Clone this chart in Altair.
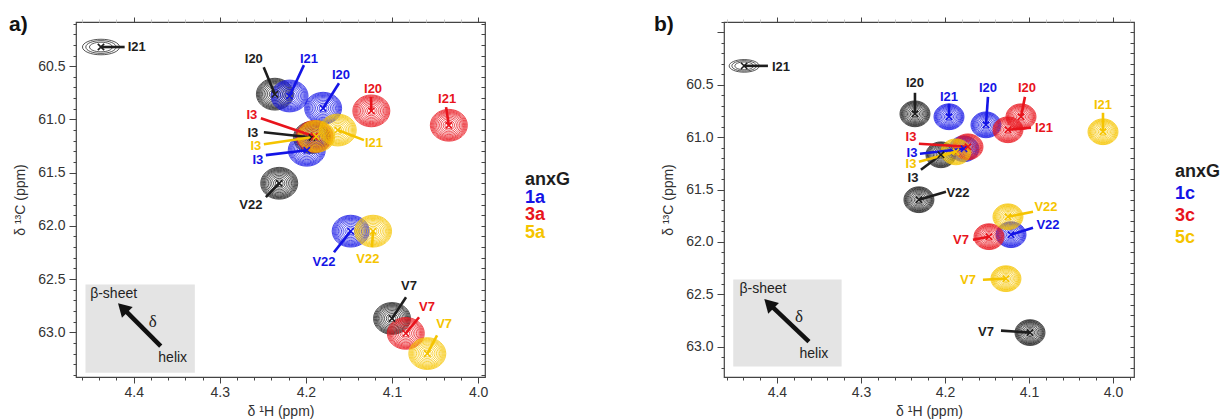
import altair as alt
import pandas as pd

FONT = "Liberation Sans"

# ---------------- panel a : peak centres (ppm) ----------------
a_series = ['anxG', 'anxG', 'anxG', 'anxG', 'anxG',
            '1a', '1a', '1a', '1a',
            '3a', '3a', '3a', '3a',
            '5a', '5a', '5a', '5a']
a_residue = ['I21', 'I20', 'I3', 'V22', 'V7',
             'I21', 'I20', 'I3', 'V22',
             'I20', 'I21', 'I3', 'V7',
             'I3', 'I21', 'V22', 'V7']
a_h = [4.438, 4.236, 4.193, 4.231, 4.100,
       4.219, 4.180, 4.199, 4.148,
       4.124, 4.034, 4.190, 4.084,
       4.188, 4.163, 4.122, 4.059]
a_c = [60.32, 60.763, 61.17, 61.60, 62.87,
       60.78, 60.895, 61.29, 62.05,
       60.92, 61.055, 61.16, 63.01,
       61.16, 61.10, 62.05, 63.20]
a_label_h = [4.3965, 4.2605, 4.2616, 4.264, 4.0802,
             4.1965, 4.1593, 4.2558, 4.179,
             4.122, 4.036, 4.2628, 4.0593,
             4.2581, 4.121, 4.128, 4.0395]
a_label_c = [60.32, 60.434, 61.13, 61.806, 62.568,
             60.434, 60.585, 61.383, 62.342,
             60.716, 60.81, 60.96, 62.765,
             61.25, 61.224, 62.314, 62.925]
a_lead_h = [4.4105, 4.249, 4.2488, 4.2465, 4.0837,
            4.2023, 4.1616, 4.2465, 4.1674,
            4.1244, 4.0372, 4.2523, 4.0686,
            4.2488, 4.1326, 4.1233, 4.0477]
a_lead_c = [60.32, 60.51, 61.12, 61.73, 62.67,
            60.49, 60.66, 61.336, 62.248,
            60.79, 60.885, 60.99, 62.859,
            61.233, 61.195, 62.20, 63.028]

# ---------------- panel b : peak centres (ppm) ----------------
b_series = ['anxG', 'anxG', 'anxG', 'anxG', 'anxG',
            '1c', '1c', '1c', '1c',
            '3c', '3c', '3c', '3c',
            '5c', '5c', '5c', '5c']
b_residue = ['I21', 'I20', 'I3', 'V22', 'V7',
             'I21', 'I20', 'I3', 'V22',
             'I20', 'I21', 'I3', 'V7',
             'I21', 'I3', 'V22', 'V7']
b_h = [4.439, 4.2357, 4.2048, 4.231, 4.0988,
       4.1952, 4.1512, 4.1774, 4.1214,
       4.1095, 4.125, 4.1726, 4.1476,
       4.0119, 4.187, 4.125, 4.1274]
b_c = [60.319, 60.777, 61.168, 61.597, 62.866,
       60.805, 60.882, 61.111, 61.931,
       60.805, 60.929, 61.092, 61.95,
       60.948, 61.14, 61.76, 62.351]
b_label_h = [4.3952, 4.2357, 4.2381, 4.1845, 4.1512,
             4.1952, 4.1488, 4.2393, 4.0774,
             4.1024, 4.0821, 4.2405, 4.181,
             4.0119, 4.2405, 4.0798, 4.1726]
b_label_c = [60.328, 60.481, 61.387, 61.53, 62.857,
             60.615, 60.529, 61.149, 61.836,
             60.529, 60.91, 60.996, 61.979,
             60.69, 61.254, 61.664, 62.361]
b_lead_h = [4.4107, 4.2357, 4.2286, 4.1988, 4.1333,
            4.1952, 4.1488, 4.2298, 4.0952,
            4.1048, 4.0976, 4.231, 4.1667,
            4.0119, 4.231, 4.0952, 4.1548]
b_lead_c = [60.319, 60.576, 61.311, 61.521, 62.847,
            60.68, 60.615, 61.158, 61.865,
            60.615, 60.91, 61.063, 61.979,
            60.767, 61.235, 61.712, 62.361]

# ---------------- legends ----------------
a_legend = ['anxG', '1a', '3a', '5a']
b_legend = ['anxG', '1c', '3c', '5c']

series_names = ['anxG', '1a', '3a', '5a', '1c', '3c', '5c']
series_colors = ['#1e1e1e', '#1414e6', '#e8141c', '#f5c400', '#1414e6', '#e8141c', '#f5c400']
legend_colors = ['#333333', '#1414e6', '#e8141c', '#f5c400', '#1414e6', '#e8141c', '#f5c400']

# ---------------- inset (helix / beta-sheet key) ----------------
a_inset_box = [4.456, 4.329, 62.55, 63.38]
a_arrow = [4.3686, 63.13, 4.4128, 62.77]
a_inset_text = [('β-sheet', 4.4233, 62.643), ('δ', 4.378, 62.906), ('helix', 4.3547, 63.244)]
b_inset_box = [4.452, 4.323, 62.36, 63.19]
b_arrow = [4.3619, 62.952, 4.4095, 62.59]
b_inset_text = [('β-sheet', 4.4167, 62.447), ('δ', 4.3738, 62.714), ('helix', 4.356, 63.067)]

# axis ranges (ppm)
a_xdom = [3.992, 4.467]
a_ydom = [60.085, 63.42]
b_xdom = [3.975, 4.463]
b_ydom = [59.90, 63.29]

RING_ROUND = [1.0, 0.95, 0.9, 0.85, 0.8, 0.74, 0.67, 0.59, 0.5, 0.41, 0.31, 0.21]
RING_FLAT = [1.0, 0.82, 0.62]
PATH_ROUND = "M-1,0A1,0.86,0,1,0,1,0A1,0.86,0,1,0,-1,0Z"
PATH_FLAT = "M-1,0A1,0.42,0,1,0,1,0A1,0.42,0,1,0,-1,0Z"
CROSS = "M-1,-1L1,1M-1,1L1,-1"

color_scale = alt.Scale(domain=series_names, range=series_colors)
legend_scale = alt.Scale(domain=series_names, range=legend_colors)

MAJ_X = "abs(datum.value*10 - round(datum.value*10)) < 0.001"
MAJ_Y = "abs(datum.value*2 - round(datum.value*2)) < 0.001"


def make_panel(series, residue, h, c, lh, lc, ldh, ldc, xdom, ydom, box, arrow, itexts,
               letter, diam, xticks, yticks):
    peaks = pd.DataFrame(dict(series=series, residue=residue, h=h, c=c,
                              lab_h=lh, lab_c=lc, lead_h=ldh, lead_c=ldc))
    peaks['order'] = peaks['series'].map({s: i for i, s in enumerate(series_names)})
    peaks['form'] = ['flat' if (s == 'anxG' and r == 'I21') else 'round'
                     for s, r in zip(peaks.series, peaks.residue)]
    rows = []
    for _, p in peaks.iterrows():
        fs = RING_FLAT if p.form == 'flat' else RING_ROUND
        for f in fs:
            d = dict(p)
            d['ring'] = (diam * f) ** 2
            rows.append(d)
    rings = pd.DataFrame(rows).sort_values(['order', 'ring'], ascending=[True, False])

    xs = alt.Scale(domain=xdom, reverse=True, nice=False, zero=False)
    ys = alt.Scale(domain=ydom, reverse=True, nice=False, zero=False)

    common = dict(labelFont=FONT, labelFontSize=14, labelColor='#333', domain=False, grid=False,
                  tickColor='#444', titleFont=FONT, titleFontSize=14, titleFontWeight='normal',
                  titleColor='#333', labelOverlap=False)
    ax_bottom = alt.Axis(values=xticks, orient='bottom', title='δ ¹H (ppm)',
                         labelExpr=f"{MAJ_X} ? format(datum.value, '.1f') : ''",
                         tickSize={"condition": {"test": MAJ_X, "value": 6}, "value": 3},
                         labelPadding=2, titlePadding=5, **common)
    ax_left = alt.Axis(values=yticks, orient='left', title='δ ¹³C (ppm)',
                       labelExpr=f"({MAJ_Y}) && datum.value > 60.4 ? format(datum.value, '.1f') : ''",
                       tickSize={"condition": {"test": MAJ_Y, "value": 7}, "value": 3},
                       labelPadding=4, titlePadding=10, **common)
    ax_top = alt.Axis(values=xticks, orient='top', title=None, labels=False, domain=False, grid=False,
                      tickSize={"condition": {"test": MAJ_X, "value": 5}, "value": 3},
                      tickColor={"condition": {"test": MAJ_X, "value": '#444'}, "value": '#c8c8c8'})
    ax_right = alt.Axis(values=yticks, orient='right', title=None, labels=False, domain=False,
                        grid=False, tickSize=4, offset=-4, tickColor='#444')

    rings_l = alt.Chart(rings).mark_point(filled=False, strokeWidth=0.75, opacity=1).encode(
        x=alt.X('h:Q', scale=xs, axis=ax_bottom),
        y=alt.Y('c:Q', scale=ys, axis=ax_left),
        color=alt.Color('series:N', scale=color_scale, legend=None),
        size=alt.Size('ring:Q', scale=None),
        shape=alt.Shape('form:N', scale=alt.Scale(domain=['round', 'flat'], range=[PATH_ROUND, PATH_FLAT]),
                        legend=None),
        order=alt.Order('order:Q'),
    )
    cross_l = alt.Chart(peaks).mark_point(filled=False, strokeWidth=1.6, shape=CROSS, size=40,
                                          opacity=1).encode(
        x=alt.X('h:Q', scale=xs, axis=ax_top),
        y=alt.Y('c:Q', scale=ys, axis=ax_right),
        color=alt.Color('series:N', scale=color_scale, legend=None),
    )
    lead_l = alt.Chart(peaks).mark_rule(strokeWidth=2.6).encode(
        x=alt.X('lead_h:Q', scale=xs, axis=None),
        y=alt.Y('lead_c:Q', scale=ys, axis=None),
        x2='h:Q', y2='c:Q',
        color=alt.Color('series:N', scale=color_scale, legend=None),
    )
    label_l = alt.Chart(peaks).mark_text(font=FONT, fontSize=13, fontWeight='bold',
                                         align='center', baseline='middle').encode(
        x=alt.X('lab_h:Q', scale=xs, axis=None),
        y=alt.Y('lab_c:Q', scale=ys, axis=None),
        text='residue:N',
        color=alt.Color('series:N', scale=color_scale, legend=None),
    )
    box_df = pd.DataFrame([dict(x1=box[0], x2=box[1], y1=box[2], y2=box[3])])
    box_l = alt.Chart(box_df).mark_rect(color='#e4e4e4').encode(
        x=alt.X('x1:Q', scale=xs, axis=None), x2='x2:Q',
        y=alt.Y('y1:Q', scale=ys, axis=None), y2='y2:Q')
    arr_df = pd.DataFrame([dict(x1=arrow[0], y1=arrow[1], x2=arrow[2], y2=arrow[3])])
    arr_l = alt.Chart(arr_df).mark_rule(strokeWidth=4.5, color='#111').encode(
        x=alt.X('x1:Q', scale=xs, axis=None), x2='x2:Q',
        y=alt.Y('y1:Q', scale=ys, axis=None), y2='y2:Q')
    head_l = alt.Chart(arr_df).mark_point(shape='triangle-up', filled=True, color='#111', size=230,
                                          angle=315, opacity=1).encode(
        x=alt.X('x2:Q', scale=xs, axis=None),
        y=alt.Y('y2:Q', scale=ys, axis=None))
    it_df = pd.DataFrame(itexts, columns=['t', 'x', 'y'])
    it_df['font'] = ['sans', 'serif', 'sans']
    itext_l = alt.Chart(it_df[it_df.font == 'sans']).mark_text(font=FONT, fontSize=14, color='#222').encode(
        x=alt.X('x:Q', scale=xs, axis=None), y=alt.Y('y:Q', scale=ys, axis=None), text='t:N')
    idelta_l = alt.Chart(it_df[it_df.font == 'serif']).mark_text(font='Liberation Serif', fontSize=17,
                                                                  color='#222').encode(
        x=alt.X('x:Q', scale=xs, axis=None), y=alt.Y('y:Q', scale=ys, axis=None), text='t:N')
    letter_l = alt.Chart(pd.DataFrame({'t': [letter[0]]})).mark_text(
        font=FONT, fontSize=21, fontWeight='bold', align='left', baseline='middle', color='#111').encode(
        x=alt.value(letter[1]), y=alt.value(3), text='t:N')

    return alt.layer(rings_l, box_l, arr_l, head_l, itext_l, idelta_l, lead_l, cross_l, label_l, letter_l
                     ).resolve_axis(x='independent', y='independent').properties(width=409, height=355)


def make_legend(names, d0, d1, x0, width, fsize):
    df = pd.DataFrame({'name': names, 'idx': list(range(len(names)))})
    return alt.Chart(df).mark_text(font=FONT, fontSize=fsize, fontWeight='bold', align='left',
                                   baseline='middle').encode(
        x=alt.value(x0),
        y=alt.Y('idx:Q', scale=alt.Scale(domain=[d0, d1], reverse=True, nice=False, zero=False), axis=None),
        text='name:N',
        color=alt.Color('name:N', scale=legend_scale, legend=None),
    ).properties(width=width, height=355, view=alt.ViewBackground(stroke=None))


xt_a = [round(4.0 + 0.02 * i, 2) for i in range(24)]
yt_a = [round(60.1 + 0.1 * i, 1) for i in range(34)]
xt_b = [round(3.98 + 0.02 * i, 2) for i in range(25)]
yt_b = [round(59.9 + 0.1 * i, 1) for i in range(34)]

panel_a = make_panel(a_series, a_residue, a_h, a_c, a_label_h, a_label_c, a_lead_h, a_lead_c,
                     a_xdom, a_ydom, a_inset_box, a_arrow, a_inset_text, ('a)', -67), 37, xt_a, yt_a)
panel_b = make_panel(b_series, b_residue, b_h, b_c, b_label_h, b_label_c, b_lead_h, b_lead_c,
                     b_xdom, b_ydom, b_inset_box, b_arrow, b_inset_text, ('b)', -70), 30, xt_b, yt_b)
panel_b = panel_b.properties(width=410)

legend_a = make_legend(a_legend, -8.93, 11.13, 36, 164, 18)
legend_b = make_legend(b_legend, -6.82, 9.32, 39, 80, 18)

chart = alt.hconcat(panel_a, legend_a, panel_b, legend_b, spacing=0).properties(
    padding={"left": 8, "top": 13, "right": 0, "bottom": 0}
).configure_view(stroke='#444', strokeWidth=1.2)

chart.save("out.html", embed_options={"renderer": "svg", "actions": False})
